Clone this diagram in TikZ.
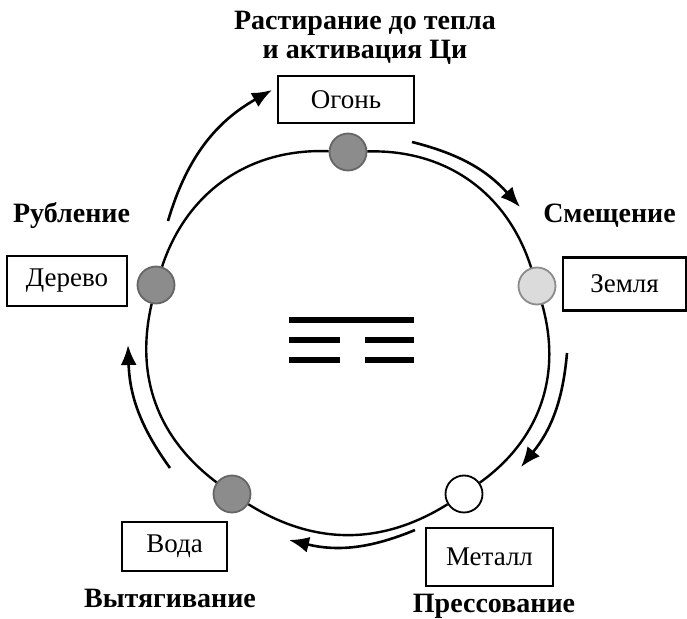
\documentclass[tikz,border=0pt]{standalone}
\usepackage{fontspec}
\setmainfont{Liberation Serif}
\usepackage{tikz}
\usetikzlibrary{arrows.meta}
\definecolor{temnyj}{gray}{0.55}
\definecolor{temnyjrand}{gray}{0.40}
\definecolor{svetlyj}{gray}{0.86}
\definecolor{svetlyjrand}{gray}{0.55}

\begin{document}
\begin{tikzpicture}[x=0.5pt,y=0.5pt,>={Latex[length=10pt,width=8pt]},
  krug/.style={line width=1.2pt},
  strelka/.style={->,line width=1.3pt},
  tochka/.style={circle,inner sep=0pt,minimum size=18.5pt,line width=0.9pt},
  element/.style={draw,line width=1.4pt,inner sep=0pt,font=\fontsize{13.5}{16}\selectfont},
  dejstvie/.style={font=\bfseries\fontsize{14}{14}\selectfont,align=center,anchor=base},
  liniya/.style={line width=3.3pt}]
  \useasboundingbox (0,0) rectangle (687,618);

  \node[tochka,fill=temnyj,draw=temnyjrand] (ogon) at (348,466) {};
  \node[tochka,fill=svetlyj,draw=svetlyjrand] (zemlya) at (537,332) {};
  \node[tochka,fill=white,draw=black] (metall) at (464,124) {};
  \node[tochka,fill=temnyj,draw=temnyjrand] (voda) at (232,124) {};
  \node[tochka,fill=temnyj,draw=temnyjrand] (derevo) at (156,333) {};

  \draw[krug] (ogon) to[bend left=37] (zemlya);
  \draw[krug] (zemlya) to[bend left=35] (metall);
  \draw[krug] (metall) to[bend left=32] (voda);
  \draw[krug] (voda) to[bend left=33] (derevo);
  \draw[krug] (derevo) to[bend left=37] (ogon);

  \node[element,minimum width=68pt,minimum height=23.5pt] (b-ogon) at (346,518.5) {Огонь};
  \node[element,minimum width=61.5pt,minimum height=26.5pt] (b-zemlya) at (624.5,334) {Земля};
  \node[element,minimum width=63.5pt,minimum height=29pt] (b-metall) at (489.5,61) {Металл};
  \node[element,minimum width=52.5pt,minimum height=24.5pt] (b-voda) at (174.5,71.5) {Вода};
  \node[element,minimum width=60pt,minimum height=25pt] (b-derevo) at (67,337) {Дерево};

  \node[dejstvie] (d-ogon) at (365,560) {Растирание до тепла\\и активация Ци};
  \node[dejstvie] (d-zemlya) at (609.5,396) {Смещение};
  \node[dejstvie] (d-metall) at (494,6) {Прессование};
  \node[dejstvie] (d-voda) at (170,11) {Вытягивание};
  \node[dejstvie] (d-derevo) at (71.5,396) {Рубление};

  \coordinate (s1) at (412,476); \coordinate (e1) at (520,411);
  \coordinate (s2) at (567,265); \coordinate (e2) at (521,151);
  \coordinate (s3) at (415,88);  \coordinate (e3) at (289,78);
  \coordinate (s4) at (170,150); \coordinate (e4) at (128,273);
  \coordinate (s5) at (168,397); \coordinate (e5) at (272,528);
  \draw[strelka] (s1) to[bend left=17] (e1);
  \draw[strelka] (s2) to[bend left=17] (e2);
  \draw[strelka] (s3) to[bend left=18] (e3);
  \draw[strelka] (s4) to[bend left=17] (e4);
  \draw[strelka] (s5) to[bend left=22] (e5);

  \draw[liniya] (289,298) -- (414,298);
  \foreach \y in {278,258} {
    \draw[liniya] (289,\y) -- (340,\y);
    \draw[liniya] (365,\y) -- (414,\y);
  }
\end{tikzpicture}
\end{document}
